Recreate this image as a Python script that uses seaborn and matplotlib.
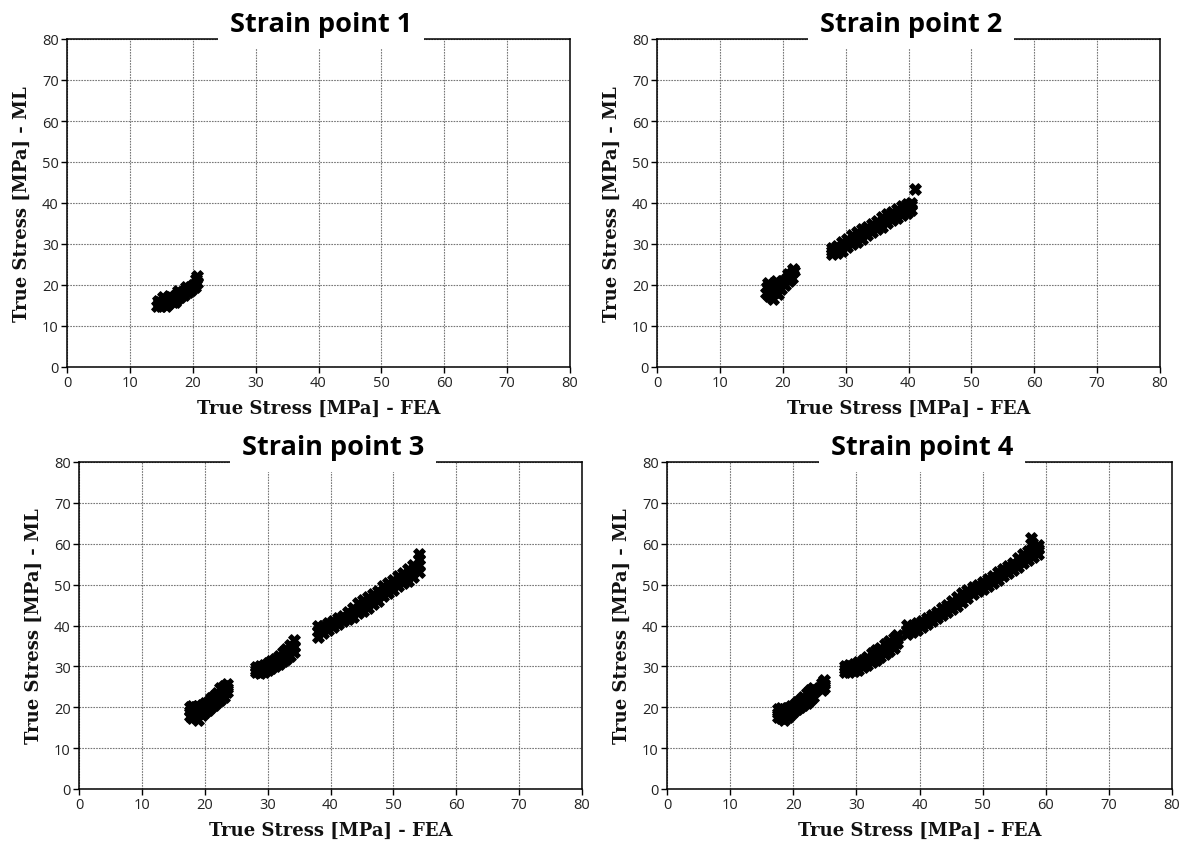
import matplotlib
matplotlib.use("Agg")
import matplotlib.pyplot as plt
import seaborn as sns
import pandas as pd

# ---------------- data ----------------
titles = ["Strain point 1", "Strain point 2", "Strain point 3", "Strain point 4"]
x_label = "True Stress [MPa] - FEA"
y_label = "True Stress [MPa] - ML"
ticks = [0, 10, 20, 30, 40, 50, 60, 70, 80]

# Strain point 1
fea_1 = [14.3, 14.6, 15.0, 15.2, 15.5, 15.8, 16.0, 16.3, 16.6, 16.8, 17.0, 17.3, 17.5, 17.8, 18.0,
         18.3, 18.6, 18.9, 19.2, 19.5, 19.8, 20.1, 20.4, 20.6, 20.5, 20.7, 19.0, 17.2, 15.6, 14.8,
         14.4, 15.3, 16.2, 17.6]
ml_1 = [14.8, 15.5, 14.9, 16.0, 15.3, 14.8, 16.3, 15.6, 17.0, 15.9, 16.6, 17.5, 16.5, 17.9, 17.0,
        18.4, 17.6, 18.9, 18.2, 19.5, 18.8, 20.0, 19.4, 20.6, 21.5, 22.2, 19.6, 15.8, 16.7, 15.9,
        16.2, 17.0, 17.4, 18.6]

# Strain point 2
fea_2 = [17.3, 17.5, 17.8, 18.0, 18.3, 18.5, 18.7, 19.0, 19.3, 19.5, 19.8, 20.1, 20.4, 20.7, 21.0,
         21.3, 21.5, 21.8, 21.6, 20.9, 17.6, 19.0,
         27.8, 28.6, 29.4, 30.2, 31.0, 31.8, 32.6, 33.4, 34.2, 35.0, 35.8, 36.6, 37.4, 38.2, 39.0, 39.8, 40.4,
         27.8, 28.6, 29.4, 30.2, 31.0, 31.8, 32.6, 33.4, 34.2, 35.0, 35.8, 36.6, 37.4, 38.2, 39.0, 39.8, 40.4,
         27.8, 28.6, 29.4, 30.2, 31.0, 31.8, 32.6, 33.4, 34.2, 35.0, 35.8, 36.6, 37.4, 38.2, 39.0, 39.8, 40.4,
         41.0]
ml_2 = [18.0, 19.5, 17.2, 18.8, 20.0, 16.6, 18.2, 19.4, 17.8, 20.5, 19.0, 21.0, 20.0, 21.8, 21.0,
        22.6, 21.8, 23.5, 24.0, 22.8, 20.4, 21.0,
        27.6, 27.8, 28.4, 29.2, 29.9, 30.6, 31.3, 32.2, 32.9, 33.6, 34.2, 35.1, 35.8, 36.4, 37.0, 37.6, 38.4,
        28.4, 28.7, 29.5, 30.3, 31.0, 31.8, 32.5, 33.2, 34.0, 34.6, 35.4, 36.1, 36.9, 37.5, 38.1, 38.8, 39.4,
        29.0, 29.6, 30.6, 31.3, 32.1, 32.9, 33.6, 34.2, 35.0, 35.6, 36.5, 37.2, 37.9, 38.6, 39.2, 39.8, 40.0,
        43.3]

# Strain point 3
fea_3 = [17.6, 18.0, 18.5, 19.0, 19.5, 20.0, 20.5, 21.0, 21.5, 22.0, 22.5, 23.0, 23.5,
         17.6, 18.0, 18.5, 19.0, 19.5, 20.0, 20.5, 21.0, 21.5, 22.0, 22.5, 23.0, 23.5,
         17.6, 18.0, 18.5, 19.0, 19.5, 20.0, 20.5, 21.0, 21.5, 22.0, 22.5, 23.0, 23.5,
         28.2, 28.8, 29.4, 30.0, 30.6, 31.2, 31.8, 32.4, 33.0, 33.6, 34.2,
         28.2, 28.8, 29.4, 30.0, 30.6, 31.2, 31.8, 32.4, 33.0, 33.6, 34.2,
         28.2, 28.8, 29.4, 30.0, 30.6, 31.2, 31.8, 32.4, 33.0, 33.6, 34.2,
         38.0, 38.8, 39.6, 40.4, 41.2, 42.0, 42.8, 43.6, 44.4, 45.2, 46.0, 46.8, 47.6, 48.4, 49.2,
         50.0, 50.8, 51.6, 52.4, 53.2, 54.0,
         38.0, 38.8, 39.6, 40.4, 41.2, 42.0, 42.8, 43.6, 44.4, 45.2, 46.0, 46.8, 47.6, 48.4, 49.2,
         50.0, 50.8, 51.6, 52.4, 53.2, 54.0,
         38.0, 38.8, 39.6, 40.4, 41.2, 42.0, 42.8, 43.6, 44.4, 45.2, 46.0, 46.8, 47.6, 48.4, 49.2,
         50.0, 50.8, 51.6, 52.4, 53.2, 54.0,
         54.0]
ml_3 = [17.8, 17.4, 17.6, 16.9, 18.0, 18.8, 19.4, 20.0, 20.6, 21.2, 21.8, 22.6, 23.8,
        19.2, 19.0, 18.8, 18.6, 19.2, 19.6, 20.4, 21.0, 21.6, 22.4, 23.0, 23.6, 24.8,
        20.0, 20.4, 20.0, 20.2, 20.6, 21.0, 21.4, 22.2, 22.8, 23.6, 24.6, 25.2, 25.6,
        28.6, 28.5, 28.7, 29.0, 29.5, 30.0, 30.5, 31.2, 31.8, 32.6, 33.6,
        29.2, 29.3, 29.6, 29.9, 30.4, 30.9, 31.5, 32.2, 33.0, 33.9, 34.8,
        29.8, 30.0, 30.4, 30.8, 31.2, 31.8, 32.6, 33.4, 34.2, 35.2, 36.4,
        37.2, 38.2, 38.8, 39.6, 40.4, 41.0, 41.6, 42.2, 43.0, 43.6, 44.4, 45.2, 46.0, 47.2, 48.0,
        48.8, 49.6, 50.4, 51.0, 51.8, 53.0,
        38.6, 39.2, 39.8, 40.4, 41.0, 41.6, 42.4, 43.2, 44.0, 44.8, 45.6, 46.4, 47.2, 48.4, 49.2,
        50.0, 50.8, 51.6, 52.4, 53.4, 54.8,
        40.0, 40.0, 40.6, 41.2, 41.8, 42.4, 43.4, 44.4, 45.4, 46.2, 47.0, 47.6, 48.4, 49.6, 50.4,
        51.2, 52.0, 52.8, 53.8, 54.8, 56.2,
        57.6]

# Strain point 4
fea_4 = [17.6, 18.1, 18.6, 19.1, 19.6, 20.1, 20.6, 21.1, 21.6, 22.1, 22.6, 23.1, 24.5, 24.8,
         17.6, 18.1, 18.6, 19.1, 19.6, 20.1, 20.6, 21.1, 21.6, 22.1, 22.6, 23.1, 24.5, 24.8,
         17.6, 18.1, 18.6, 19.1, 19.6, 20.1, 20.6, 21.1, 21.6, 22.1, 22.6, 23.1, 24.5, 24.8,
         28.2, 28.9, 29.6, 30.3, 31.0, 31.7, 32.4, 33.1, 33.8, 34.5, 35.2, 35.9, 36.5,
         28.2, 28.9, 29.6, 30.3, 31.0, 31.7, 32.4, 33.1, 33.8, 34.5, 35.2, 35.9, 36.5,
         28.2, 28.9, 29.6, 30.3, 31.0, 31.7, 32.4, 33.1, 33.8, 34.5, 35.2, 35.9, 36.5,
         38.0, 38.8, 39.6, 40.4, 41.2, 42.0, 42.8, 43.6, 44.4, 45.2, 46.0, 46.8, 47.6, 48.4,
         49.2, 50.0, 50.8, 51.6, 52.4, 53.2, 54.0, 54.8, 55.6, 56.4, 57.2, 58.0, 58.8,
         38.0, 38.8, 39.6, 40.4, 41.2, 42.0, 42.8, 43.6, 44.4, 45.2, 46.0, 46.8, 47.6, 48.4,
         49.2, 50.0, 50.8, 51.6, 52.4, 53.2, 54.0, 54.8, 55.6, 56.4, 57.2, 58.0, 58.8,
         38.0, 38.8, 39.6, 40.4, 41.2, 42.0, 42.8, 43.6, 44.4, 45.2, 46.0, 46.8, 47.6, 48.4,
         49.2, 50.0, 50.8, 51.6, 52.4, 53.2, 54.0, 54.8, 55.6, 56.4, 57.2, 58.0, 58.8,
         57.6, 57.8]
ml_4 = [17.6, 17.4, 17.0, 17.6, 18.4, 19.0, 19.5, 20.0, 20.6, 21.0, 21.8, 22.6, 24.2, 24.8,
        18.6, 18.8, 18.4, 18.8, 19.2, 19.8, 20.4, 20.9, 21.6, 22.2, 23.0, 23.6, 25.2, 25.6,
        19.6, 19.8, 19.6, 19.8, 20.2, 20.6, 21.2, 21.8, 22.6, 23.4, 24.2, 24.6, 26.0, 26.6,
        28.6, 28.6, 28.8, 29.2, 29.8, 30.4, 31.0, 31.6, 32.4, 33.0, 33.8, 34.6, 35.6,
        29.4, 29.6, 29.8, 30.2, 30.8, 31.4, 32.0, 32.8, 33.4, 34.2, 35.0, 35.8, 36.6,
        30.2, 30.4, 30.6, 31.0, 31.6, 32.2, 33.2, 34.0, 34.6, 35.4, 36.2, 37.0, 37.6,
        37.8, 38.4, 39.0, 39.6, 40.4, 41.2, 41.8, 42.6, 43.4, 44.0, 44.8, 45.8, 46.8, 47.8,
        48.4, 49.0, 49.6, 50.4, 51.2, 52.0, 52.8, 53.6, 54.4, 55.2, 56.0, 56.8, 57.4,
        39.0, 39.2, 39.8, 40.4, 41.2, 42.0, 42.6, 43.4, 44.2, 45.0, 45.8, 46.8, 47.8, 48.6,
        49.2, 49.8, 50.6, 51.4, 52.2, 53.0, 53.8, 54.6, 55.4, 56.2, 57.0, 57.8, 58.6,
        40.2, 40.0, 40.6, 41.2, 41.8, 42.6, 43.4, 44.2, 45.0, 46.0, 47.0, 48.0, 48.8, 49.4,
        50.0, 50.6, 51.4, 52.2, 53.0, 53.8, 54.6, 55.4, 56.4, 57.4, 58.2, 58.8, 59.6,
        61.3, 60.2]

fea_sets = [fea_1, fea_2, fea_3, fea_4]
ml_sets = [ml_1, ml_2, ml_3, ml_4]

# ---------------- figure ----------------
sns.set_theme(style="white")
W, H = 1186, 845
fig = plt.figure(figsize=(W / 100, H / 100), dpi=100)

# axes boxes in pixels: left, right, top, bottom
boxes = [(67, 570, 40, 368), (657, 1160, 40, 368),
         (79, 582, 463, 790), (667, 1172, 463, 790)]

for i, (l, r, t, b) in enumerate(boxes):
    ax = fig.add_axes([l / W, 1 - b / H, (r - l) / W, (b - t) / H])
    df = pd.DataFrame({"fea": fea_sets[i], "ml": ml_sets[i]})
    sns.scatterplot(data=df, x="fea", y="ml", ax=ax, marker="X", s=70,
                    color="black", edgecolor="black", linewidth=0.8, zorder=3, legend=False)
    ax.set_xlim(0, 80)
    ax.set_ylim(0, 80)
    ax.set_xticks(ticks)
    ax.set_yticks(ticks)
    ax.set_xticklabels([str(v) for v in ticks], fontfamily="Open Sans", fontsize=10.5, color="#222222")
    ax.set_yticklabels([str(v) for v in ticks], fontfamily="Open Sans", fontsize=10.5, color="#222222")
    ax.tick_params(axis="both", direction="out", length=4, width=1, color="black", pad=2,
                   bottom=True, left=True)
    ax.grid(True, color="#555555", linestyle=(0, (1.5, 1.0)), linewidth=0.8, alpha=0.8)
    for sp in ax.spines.values():
        sp.set_visible(True)
        sp.set_color("black")
        sp.set_linewidth(1.1)
    ax.set_xlabel(x_label, fontfamily="DejaVu Serif", fontweight="bold", fontsize=13,
                  color="#111111", labelpad=6)
    ax.set_ylabel(y_label, fontfamily="DejaVu Serif", fontweight="bold", fontsize=13,
                  color="#111111", labelpad=8)
    ax.text(0.505, 1.047, titles[i], transform=ax.transAxes, ha="center", va="center",
            fontfamily="Open Sans", fontweight="bold", fontsize=19.5, color="black",
            bbox=dict(facecolor="white", edgecolor="none", boxstyle="square,pad=0.45"),
            zorder=10, clip_on=False)

fig.savefig("out.png", dpi=100)
